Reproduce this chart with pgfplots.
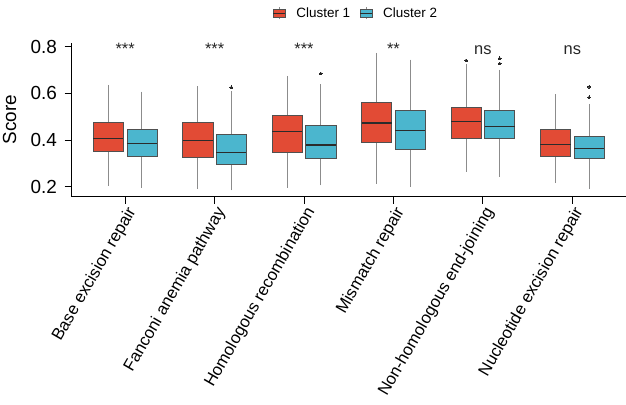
\documentclass[border=0pt]{standalone}
\usepackage{fontspec}
\setmainfont{Liberation Sans}
\usepackage{pgfplots}
\pgfplotsset{compat=1.18}
\usepgfplotslibrary{statistics}
\definecolor{cred}{HTML}{E24B35}
\definecolor{cblue}{HTML}{4BB6CE}
\definecolor{cline}{HTML}{505050}
\definecolor{cwhisk}{HTML}{8C8C8C}
\definecolor{cmed}{HTML}{2B2B2B}
\pgfplotsset{
  bx/.style={draw=cline, line width=0.6bp, solid,
    boxplot/draw direction=y,
    boxplot/box extend=0.3375, boxplot/whisker extend=0,
    boxplot/every whisker/.style={draw=cwhisk, line width=0.9bp},
    boxplot/every median/.style={draw=cmed, line width=1.3bp},
    mark=*, mark size=1.4bp, mark options={fill=black!85, draw=black!85, line width=0bp},
    forget plot},
  rbx/.style={bx, fill=cred},
  bbx/.style={bx, fill=cblue},
}
\begin{document}
\begin{tikzpicture}
\useasboundingbox (0,0) rectangle (626bp,405bp);
\begin{axis}[
  at={(71.5bp,208.3bp)}, anchor=south west,
  scale only axis, width=554.5bp, height=153.7bp,
  xmin=0.4, xmax=6.6, ymin=0.157, ymax=0.816,
  axis lines=left, axis line style={-, line width=0.9bp, black},
  tick align=outside, major tick length=7bp,
  tick style={line width=0.9bp, black},
  xtick={1,2,3,4,5,6},
  xticklabels={Base excision repair, Fanconi anemia pathway, Homologous recombination, Mismatch repair, Non-homologous end-joining, Nucleotide excision repair},
  xticklabel style={rotate=60, anchor=north east, font=\fontsize{16.8}{18}\selectfont, inner sep=1bp},
  ytick={0.2,0.4,0.6,0.8},
  yticklabel style={xshift=-4bp, font=\fontsize{19}{21}\selectfont, /pgf/number format/fixed, /pgf/number format/precision=1, /pgf/number format/fixed zerofill},
  /pgf/number format/assume math mode=true,
  ylabel={Score}, ylabel style={at={(axis description cs:-0.1115,0.5)}, anchor=center, font=\fontsize{19}{21}\selectfont},
  clip=false,
  legend style={at={(0.513,1.195)}, anchor=center, draw=none, fill=none, legend columns=2, font=\fontsize{13.5}{15}\selectfont,
    /tikz/every odd column/.style={column sep=8.5bp},
    /tikz/every even column/.style={column sep=7.5bp}},
]
% Category 1
\addplot[rbx, boxplot prepared={draw position=0.8125, lower whisker=0.204, lower quartile=0.351, median=0.407, upper quartile=0.474, upper whisker=0.636}] coordinates {};
\addplot[bbx, boxplot prepared={draw position=1.1875, lower whisker=0.196, lower quartile=0.332, median=0.385, upper quartile=0.448, upper whisker=0.608}] coordinates {};
% Category 2
\addplot[rbx, boxplot prepared={draw position=1.8125, lower whisker=0.189, lower quartile=0.325, median=0.397, upper quartile=0.474, upper whisker=0.630}] coordinates {};
\addplot[bbx, boxplot prepared={draw position=2.1875, lower whisker=0.184, lower quartile=0.295, median=0.348, upper quartile=0.424, upper whisker=0.609}] table[row sep=\\, y index=0] {data\\ 0.626\\};
% Category 3
\addplot[rbx, boxplot prepared={draw position=2.8125, lower whisker=0.196, lower quartile=0.346, median=0.438, upper quartile=0.504, upper whisker=0.675}] coordinates {};
\addplot[bbx, boxplot prepared={draw position=3.1875, lower whisker=0.206, lower quartile=0.322, median=0.379, upper quartile=0.461, upper whisker=0.639}] table[row sep=\\, y index=0] {data\\ 0.685\\};
% Category 4
\addplot[rbx, boxplot prepared={draw position=3.8125, lower whisker=0.213, lower quartile=0.389, median=0.473, upper quartile=0.562, upper whisker=0.774}] coordinates {};
\addplot[bbx, boxplot prepared={draw position=4.1875, lower whisker=0.199, lower quartile=0.361, median=0.441, upper quartile=0.529, upper whisker=0.745}] coordinates {};
% Category 5
\addplot[rbx, boxplot prepared={draw position=4.8125, lower whisker=0.265, lower quartile=0.407, median=0.478, upper quartile=0.539, upper whisker=0.725}] table[row sep=\\, y index=0] {data\\ 0.741\\};
\addplot[bbx, boxplot prepared={draw position=5.1875, lower whisker=0.242, lower quartile=0.408, median=0.458, upper quartile=0.527, upper whisker=0.702}] table[row sep=\\, y index=0] {data\\ 0.750\\ 0.728\\};
% Category 6
\addplot[rbx, boxplot prepared={draw position=5.8125, lower whisker=0.215, lower quartile=0.331, median=0.382, upper quartile=0.444, upper whisker=0.596}] coordinates {};
\addplot[bbx, boxplot prepared={draw position=6.1875, lower whisker=0.190, lower quartile=0.320, median=0.364, upper quartile=0.418, upper whisker=0.555}] table[row sep=\\, y index=0] {data\\ 0.628\\ 0.583\\};
% Legend
\addlegendimage{legend image code/.code={
  \draw[cwhisk, line width=0.8bp] (6bp,-6bp) -- (6bp,6bp);
  \draw[cline, fill=cred, line width=0.5bp] (0bp,-4.2bp) rectangle (12bp,4.2bp);
  \draw[cmed, line width=1bp] (0bp,0bp) -- (12bp,0bp);}}
\addlegendentry{Cluster 1}
\addlegendimage{legend image code/.code={
  \draw[cwhisk, line width=0.8bp] (6bp,-6bp) -- (6bp,6bp);
  \draw[cline, fill=cblue, line width=0.5bp] (0bp,-4.2bp) rectangle (12bp,4.2bp);
  \draw[cmed, line width=1bp] (0bp,0bp) -- (12bp,0bp);}}
\addlegendentry{Cluster 2}
% Significance labels
\node[anchor=base, font=\fontsize{16.5}{18}\selectfont, text=black!85] at (axis cs:1,0.765) {***};
\node[anchor=base, font=\fontsize{16.5}{18}\selectfont, text=black!85] at (axis cs:2,0.765) {***};
\node[anchor=base, font=\fontsize{16.5}{18}\selectfont, text=black!85] at (axis cs:3,0.765) {***};
\node[anchor=base, font=\fontsize{16.5}{18}\selectfont, text=black!85] at (axis cs:4,0.765) {**};
\node[anchor=base, font=\fontsize{16.5}{18}\selectfont, text=black!85] at (axis cs:5,0.765) {ns};
\node[anchor=base, font=\fontsize{16.5}{18}\selectfont, text=black!85] at (axis cs:6,0.765) {ns};
\end{axis}
\end{tikzpicture}
\end{document}
